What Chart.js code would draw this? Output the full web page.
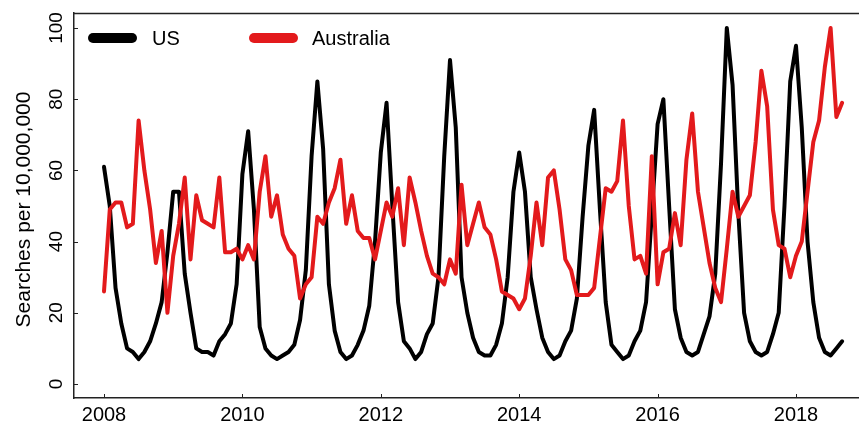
<!DOCTYPE html>
<html>
<head>
<meta charset="utf-8">
<script src="https://cdn.jsdelivr.net/npm/chart.js@4"></script>
<style>
  body { margin: 0; background: #fff; }
  #wrap { width: 859px; height: 426px; }
</style>
</head>
<body>
<div id="wrap"><canvas id="chart" width="859" height="426"></canvas></div>
<script>
// monthly series, Jan 2008 onward
const startYear = 2008;
const yearTicks = [2008, 2010, 2012, 2014, 2016, 2018];
const valueTicks = [0, 20, 40, 60, 80, 100];
const seriesNames = ["US", "Australia"];

const usSearches = [
  61, 50, 27, 17, 10, 9, 7, 9, 12, 17, 23, 37,
  54, 54, 31, 20, 10, 9, 9, 8, 12, 14, 17, 28,
  59, 71, 49, 16, 10, 8, 7, 8, 9, 11, 18, 32,
  64, 85, 66, 28, 15, 9, 7, 8, 11, 15, 22, 40,
  65, 79, 50, 23, 12, 10, 7, 9, 14, 17, 30, 64,
  91, 72, 30, 20, 13, 9, 8, 8, 11, 17, 30, 54,
  65, 54, 30, 21, 13, 9, 7, 8, 12, 15, 24, 47,
  67, 77, 49, 23, 11, 9, 7, 8, 12, 15, 23, 48,
  73, 80, 50, 21, 13, 9, 8, 9, 14, 19, 31, 62,
  100, 84, 48, 20, 12, 9, 8, 9, 14, 20, 50, 85,
  95, 72, 40, 23, 13, 9, 8, 10, 12
];

const auSearches = [
  26, 49, 51, 51, 44, 45, 74, 60, 49, 34, 43, 20,
  36, 45, 58, 35, 53, 46, 45, 44, 58, 37, 37, 38,
  35, 39, 35, 54, 64, 47, 53, 42, 38, 36, 24, 28,
  30, 47, 45, 51, 55, 63, 45, 53, 43, 41, 41, 35,
  43, 51, 47, 55, 39, 58, 51, 43, 36, 31, 30, 28,
  35, 31, 56, 39, 45, 51, 44, 42, 35, 26, 25, 24,
  21, 24, 36, 51, 39, 58, 60, 49, 35, 32, 25, 25,
  25, 27, 41, 55, 54, 57, 74, 50, 35, 36, 31, 64,
  28, 37, 38, 48, 39, 63, 76, 54, 44, 34, 27, 23,
  38, 54, 47, 50, 53, 68, 88, 78, 49, 39, 38, 30,
  36, 40, 54, 68, 74, 89, 100, 75, 79
];

const colors = ["#000000", "#e31a1c"];

// 연-월 -> x 좌표값
function toPoints(values) {
  return values.map((v, i) => ({ x: startYear + i / 12, y: v }));
}

const axisColor = "#222";
const font = "Liberation Sans, Arial, sans-serif";

// 축, 눈금, 라벨, 범례를 직접 그림
const decorations = {
  id: "decorations",
  afterDraw(chart) {
    const ctx = chart.ctx;
    const area = chart.chartArea;
    const xs = chart.scales.x;
    const ys = chart.scales.y;
    ctx.save();

    // top frame line
    ctx.strokeStyle = axisColor;
    ctx.lineWidth = 1.5;
    ctx.beginPath();
    ctx.moveTo(area.left, area.top + 0.5);
    ctx.lineTo(area.right, area.top + 0.5);
    ctx.stroke();

    // inward ticks
    ctx.lineWidth = 1;
    ctx.beginPath();
    yearTicks.forEach(t => {
      const px = Math.round(xs.getPixelForValue(t)) + 0.5;
      ctx.moveTo(px, area.bottom);
      ctx.lineTo(px, area.bottom - 4);
    });
    valueTicks.forEach(t => {
      const py = Math.round(ys.getPixelForValue(t)) + 0.5;
      ctx.moveTo(area.left, py);
      ctx.lineTo(area.left + 4, py);
    });
    ctx.stroke();

    ctx.fillStyle = "#000";
    // x labels
    ctx.font = "20px " + font;
    ctx.textAlign = "center";
    ctx.textBaseline = "middle";
    yearTicks.forEach(t => {
      ctx.fillText(String(t), xs.getPixelForValue(t), 415);
    });

    // y labels (rotated)
    ctx.font = "19px " + font;
    valueTicks.forEach(t => {
      ctx.save();
      ctx.translate(57, ys.getPixelForValue(t));
      ctx.rotate(-Math.PI / 2);
      ctx.fillText(String(t), 0, 0);
      ctx.restore();
    });

    // y title
    ctx.font = "21px " + font;
    ctx.save();
    ctx.translate(24, (area.top + area.bottom) / 2 + 4);
    ctx.rotate(-Math.PI / 2);
    ctx.fillText("Searches per 10,000,000", 0, 0);
    ctx.restore();

    // legend
    const legendItems = [
      { x0: 93, x1: 132, tx: 152 },
      { x0: 254, x1: 293, tx: 312 }
    ];
    ctx.lineCap = "round";
    ctx.lineWidth = 10;
    ctx.textAlign = "left";
    ctx.font = "20px " + font;
    legendItems.forEach((it, i) => {
      ctx.strokeStyle = colors[i];
      ctx.beginPath();
      ctx.moveTo(it.x0, 38);
      ctx.lineTo(it.x1, 38);
      ctx.stroke();
      ctx.fillStyle = "#000";
      ctx.fillText(seriesNames[i], it.tx, 39);
    });

    ctx.restore();
  }
};

const chart = new Chart(document.getElementById("chart"), {
  type: "line",
  data: {
    datasets: [
      {
        label: seriesNames[0],
        data: toPoints(usSearches),
        borderColor: colors[0],
        borderWidth: 4,
        pointRadius: 0,
        tension: 0,
        borderJoinStyle: "round",
        borderCapStyle: "round",
        order: 1
      },
      {
        label: seriesNames[1],
        data: toPoints(auSearches),
        borderColor: colors[1],
        borderWidth: 4,
        pointRadius: 0,
        tension: 0,
        borderJoinStyle: "round",
        borderCapStyle: "round",
        order: 0
      }
    ]
  },
  options: {
    responsive: false,
    animation: false,
    layout: { padding: { top: 13, right: 0, bottom: 0, left: 0 } },
    plugins: {
      legend: { display: false },
      tooltip: { enabled: false }
    },
    scales: {
      x: {
        type: "linear",
        min: 2007.5665,
        max: 2018.9104,
        ticks: { display: false },
        grid: { display: false },
        border: { display: true, color: axisColor, width: 1.5 },
        afterFit(s) { s.height = 28; }
      },
      y: {
        type: "linear",
        min: -3.93,
        max: 104.21,
        ticks: { display: false },
        grid: { display: false },
        border: { display: true, color: axisColor, width: 1.5 },
        afterFit(s) { s.width = 74; }
      }
    }
  },
  plugins: [decorations]
});
</script>
</body>
</html>
